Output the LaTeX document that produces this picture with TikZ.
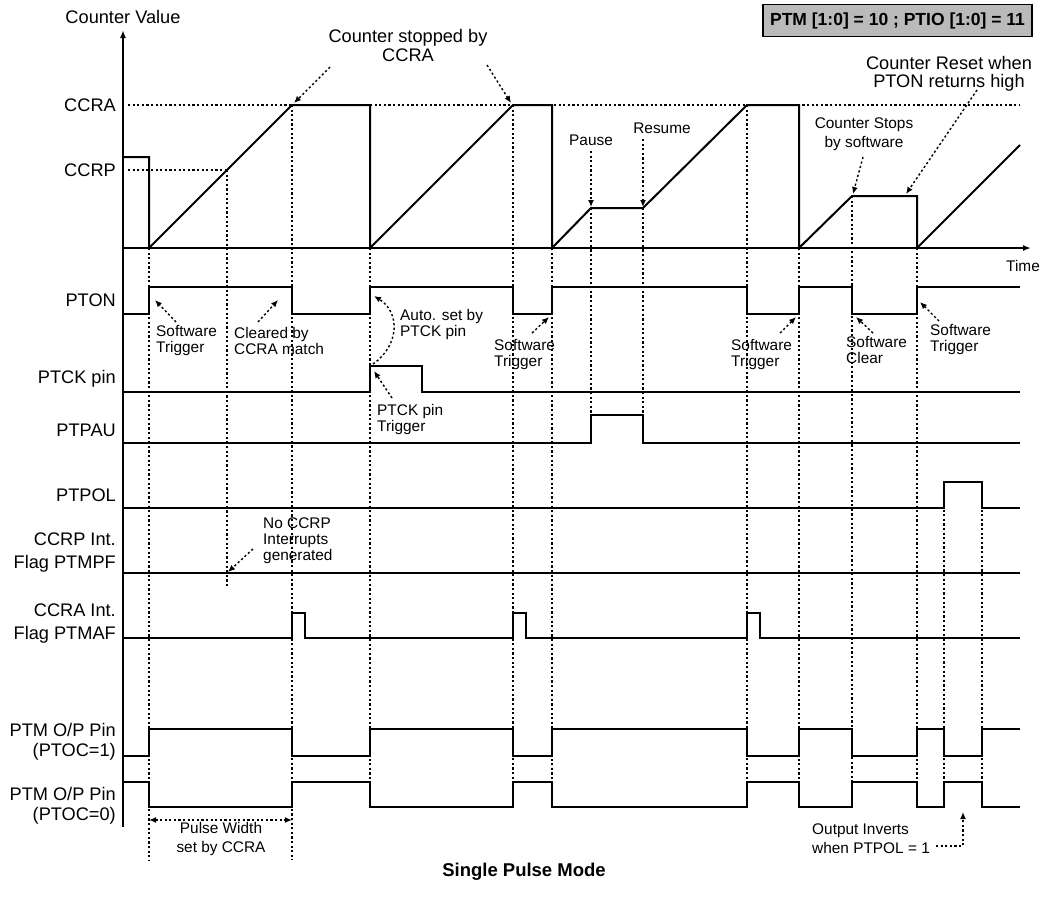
\documentclass[tikz,border=0pt]{standalone}
\usepackage{fontspec}
\setmainfont{Liberation Sans}
\usetikzlibrary{arrows.meta}
\begin{document}
\begin{tikzpicture}[x=1pt,y=-1pt,
  sig/.style={line width=1.5pt, line join=miter},
  cnt/.style={line width=2pt, line join=miter},
  dotl/.style={line width=1.4pt, dash pattern=on 2.2pt off 2.4pt},
  darr/.style={dotl, -{Latex[length=7pt,width=6pt]}},
  big/.style={font=\fontsize{18.2}{22}\selectfont, inner sep=0pt},
  small/.style={font=\fontsize{15.4}{16}\selectfont, inner sep=0pt, align=left},
  lab/.style={big, anchor=east, align=right},
]
\useasboundingbox (0,0) rectangle (1048,898);

% ---------- dotted guide lines ----------
\draw[dotl] (128,105) -- (292,105);
\draw[dotl] (370,105) -- (1020,105);
\draw[dotl] (128,170) -- (227,170);
\foreach \x/\ya/\yb in {149/248/860, 227/170/587, 292/105/860, 370/248/782,
  513/105/782, 552/248/782, 591/208/415, 643/208/415, 747/105/782,
  799/248/782, 852/196/782, 917/248/782, 944/482/782, 982/482/782}
  \draw[dotl] (\x,\ya) -- (\x,\yb);

% ---------- axes ----------
\coordinate (ybot) at (123,827);
\coordinate (ytop) at (123,30);
\coordinate (xorg) at (123,248);
\coordinate (xend) at (1031,248);
\draw[cnt, -{Latex[length=8pt,width=6pt]}] (ybot) -- (ytop);
\draw[cnt, -{Latex[length=8pt,width=6pt]}] (xorg) -- (xend);

% ---------- counter value ----------
\draw[cnt] (123,157) -- (149,157) -- (149,248) -- (292,105) -- (370,105) -- (370,248)
  -- (513,105) -- (552,105) -- (552,248) -- (591,208) -- (643,208) -- (747,105)
  -- (799,105) -- (799,248) -- (852,196) -- (917,196) -- (917,248) -- (1020,145);

% ---------- signals ----------
% PTON
\draw[sig] (123,314) -- (149,314) -- (149,287) -- (292,287) -- (292,314) -- (370,314)
  -- (370,287) -- (513,287) -- (513,314) -- (552,314) -- (552,287) -- (747,287)
  -- (747,314) -- (799,314) -- (799,287) -- (852,287) -- (852,314) -- (917,314)
  -- (917,287) -- (1020,287);
% PTCK pin
\draw[sig] (123,392) -- (370,392) -- (370,366) -- (422,366) -- (422,392) -- (1020,392);
% PTPAU
\draw[sig] (123,443) -- (591,443) -- (591,415) -- (643,415) -- (643,443) -- (1020,443);
% PTPOL
\draw[sig] (123,508) -- (944,508) -- (944,482) -- (982,482) -- (982,508) -- (1020,508);
% PTMPF
\draw[sig] (123,573) -- (1020,573);
% PTMAF
\draw[sig] (123,638) -- (292,638) -- (292,613) -- (305,613) -- (305,638) -- (513,638)
  -- (513,613) -- (526,613) -- (526,638) -- (747,638) -- (747,613) -- (760,613)
  -- (760,638) -- (1020,638);
% PTOC=1
\draw[sig] (123,756) -- (149,756) -- (149,729) -- (292,729) -- (292,756) -- (370,756)
  -- (370,729) -- (513,729) -- (513,756) -- (552,756) -- (552,729) -- (747,729)
  -- (747,756) -- (799,756) -- (799,729) -- (852,729) -- (852,756) -- (917,756)
  -- (917,729) -- (944,729) -- (944,756) -- (982,756) -- (982,729) -- (1020,729);
% PTOC=0
\draw[sig] (123,782) -- (149,782) -- (149,807) -- (292,807) -- (292,782) -- (370,782)
  -- (370,807) -- (513,807) -- (513,782) -- (552,782) -- (552,807) -- (747,807)
  -- (747,782) -- (799,782) -- (799,807) -- (852,807) -- (852,782) -- (917,782)
  -- (917,807) -- (944,807) -- (944,782) -- (982,782) -- (982,807) -- (1020,807);

% ---------- left labels ----------
\node[big] (cv) at (123,17) {Counter Value};
\node[lab] (lccra) at (116,105) {CCRA};
\node[lab] (lccrp) at (116,170) {CCRP};
\node[lab] (lpton) at (116,300) {PTON};
\node[lab] (lptck) at (116,379) {PTCK pin};
\node[lab] (lptpau) at (116,430) {PTPAU};
\node[lab] (lptpol) at (116,495) {PTPOL};
\node[lab, font=\fontsize{18.2}{23}\selectfont] (lmpf) at (116,553) {CCRP Int.\\Flag PTMPF};
\node[lab, font=\fontsize{18.2}{23}\selectfont] (lmaf) at (116,624) {CCRA Int.\\Flag PTMAF};
\node[lab, font=\fontsize{18.2}{20}\selectfont] (loc1) at (116,742) {PTM O/P Pin\\(PTOC=1)};
\node[lab, font=\fontsize{18.2}{20}\selectfont] (loc0) at (116,806) {PTM O/P Pin\\(PTOC=0)};
\node[small] (ltime) at (1023,266) {Time};

% ---------- mode box and title ----------
\node[draw, line width=1.5pt, fill=black!27, minimum width=269pt, minimum height=32pt,
  inner sep=0pt, font=\fontsize{17.5}{20}\selectfont\bfseries] (mode) at (897.5,20.5)
  {PTM [1:0] = 10 ; PTIO [1:0] = 11};
\node[font=\fontsize{18.5}{20}\selectfont\bfseries, inner sep=0pt] (title) at (524,872) {Single Pulse Mode};

% ---------- annotations ----------
\node[big, align=center, font=\fontsize{18.2}{19}\selectfont] (stop) at (408,45) {Counter stopped by\\CCRA};
\coordinate (stopA) at (330,67);   \coordinate (stopAt) at (294,103);
\coordinate (stopB) at (487,65);   \coordinate (stopBt) at (511,103);
\draw[darr] (stopA) -- (stopAt);
\draw[darr] (stopB) -- (stopBt);

\node[small, align=center] (pause) at (591,140) {Pause};
\coordinate (pauseS) at (591,151); \coordinate (pauseT) at (591,207);
\draw[darr] (pauseS) -- (pauseT);
\node[small, align=center] (resume) at (662,128) {Resume};
\coordinate (resS) at (643,139); \coordinate (resT) at (643,207);
\draw[darr] (resS) -- (resT);

\node[small, align=center, font=\fontsize{15.4}{19}\selectfont] (cstop) at (864,134) {Counter Stops\\by software};
\coordinate (cstopS) at (863,157); \coordinate (cstopT) at (853,194);
\draw[darr] (cstopS) -- (cstopT);

\node[big, align=center, font=\fontsize{18.2}{18}\selectfont] (creset) at (949,74) {Counter Reset when\\PTON returns high};
\coordinate (cresS) at (977,90); \coordinate (cresT) at (906,194);
\draw[darr] (cresS) -- (cresT);

\node[small, anchor=west] (sw1) at (156,341) {Software\\Trigger};
\coordinate (sw1S) at (176,322); \coordinate (sw1T) at (155,300);
\draw[darr] (sw1S) -- (sw1T);

\node[small, anchor=west] (clr) at (234,341) {Cleared by\\CCRA match};
\coordinate (clrS) at (258,322); \coordinate (clrT) at (278,300);
\draw[darr] (clrS) -- (clrT);

\node[small, anchor=west] (auto) at (400,325) {Auto. set by\\PTCK pin};
\coordinate (autoS) at (373,364); \coordinate (autoT) at (374,296);
\draw[darr] (autoS) .. controls (400,345) and (400,312) .. (autoT);

\node[small, anchor=west] (ptcktrig) at (377,420) {PTCK pin\\Trigger};
\coordinate (ptS) at (392,398); \coordinate (ptT) at (374,371);
\draw[darr] (ptS) -- (ptT);

\node[small, anchor=west] (sw2) at (494,355) {Software\\Trigger};
\coordinate (sw2S) at (532,333); \coordinate (sw2T) at (549,317);
\draw[darr] (sw2S) -- (sw2T);

\node[small, anchor=west] (sw3) at (731,355) {Software\\Trigger};
\coordinate (sw3S) at (780,333); \coordinate (sw3T) at (796,317);
\draw[darr] (sw3S) -- (sw3T);

\node[small, anchor=west] (sclr) at (846,350) {Software\\Clear};
\coordinate (sclrS) at (873,333); \coordinate (sclrT) at (856,317);
\draw[darr] (sclrS) -- (sclrT);

\node[small, anchor=west] (sw4) at (930,340) {Software\\Trigger};
\coordinate (sw4S) at (939,321); \coordinate (sw4T) at (920,302);
\draw[darr] (sw4S) -- (sw4T);

\node[small, anchor=west] (nointr) at (263,541) {No CCRP\\Interrupts\\generated};
\coordinate (noS) at (253,549); \coordinate (noT) at (228,572);
\draw[darr] (noS) -- (noT);

\coordinate (pwL) at (149,820); \coordinate (pwR) at (292,820);
\draw[dotl, {Latex[length=7pt,width=6pt]}-{Latex[length=7pt,width=6pt]}] (pwL) -- (pwR);
\node[small, align=center, font=\fontsize{15.4}{19}\selectfont] (pw) at (221,839) {Pulse Width\\set by CCRA};

\node[small, anchor=west, font=\fontsize{15.4}{19}\selectfont] (inv) at (812,839) {Output Inverts\\when PTPOL = 1};
\coordinate (invS) at (936,846); \coordinate (invC) at (963,846); \coordinate (invT) at (963,812);
\draw[darr] (invS) -- (invC) -- (invT);
\end{tikzpicture}
\end{document}
